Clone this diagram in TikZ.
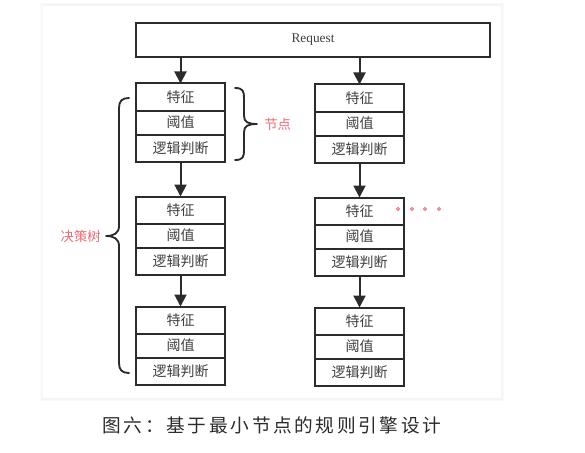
\documentclass[tikz,border=0pt]{standalone}
\usepackage{fontspec}
\setmainfont{Liberation Serif}
\newfontfamily\cjk{Noto Sans CJK SC}
\usetikzlibrary{arrows.meta}
\definecolor{ink}{HTML}{2B2B2B}
\definecolor{txt}{HTML}{404040}
\definecolor{redlab}{HTML}{F26B73}
\tikzset{
  cell/.style={draw=ink, line width=1.5pt, fill=white, minimum width=66.75pt, inner sep=0pt, outer sep=0pt, text=txt, font=\cjk\fontsize{10.5pt}{12pt}\selectfont},
  arr/.style={draw=ink, line width=1.5pt, -{Triangle[length=9pt,width=9pt]}},
  bracestyle/.style={draw=ink, line width=1.4pt, line cap=round, line join=round},
  redtext/.style={text=redlab, font=\cjk\fontsize{10pt}{12pt}\selectfont, inner sep=0pt},
}
\newcommand\mystack[3]{%
  \node[cell, minimum height=20.25pt, anchor=north] (#1a) at (#2,#3) {特征};
  \node[cell, minimum height=18pt, anchor=north] (#1b) at (#1a.south) {阈值};
  \node[cell, minimum height=20.25pt, anchor=north] (#1c) at (#1b.south) {逻辑判断};
}
\begin{document}
\begin{tikzpicture}[x=0.75pt, y=-0.75pt]
\useasboundingbox (0,0) rectangle (585,453);
\fill[white] (0,0) rectangle (585,453);
% panel with soft shadow
\fill[black!2] (40,3) rectangle (504,401);
\fill[black!4] (41.5,4.5) rectangle (502.5,399.5);
\fill[white] (43,6) rectangle (501,398);
% request
\node[cell, minimum width=265.5pt, minimum height=25.5pt, font=\fontsize{10pt}{12pt}\selectfont] (req) at (313,40) {Request};
% stacks
\mystack{L1}{180.5}{83.5}
\mystack{L2}{180.5}{196.5}
\mystack{L3}{180.5}{306.5}
\mystack{R1}{359.5}{84.5}
\mystack{R2}{359.5}{197.5}
\mystack{R3}{359.5}{307.5}
% arrows
\draw[arr] (req.south -| L1a.north) -- (L1a.north);
\draw[arr] (req.south -| R1a.north) -- (R1a.north);
\draw[arr] (L1c.south) -- (L2a.north);
\draw[arr] (L2c.south) -- (L3a.north);
\draw[arr] (R1c.south) -- (R2a.north);
\draw[arr] (R2c.south) -- (R3a.north);
% node brace
\draw[bracestyle] (235,88) .. controls (243,88) and (244,91) .. (244,98) -- (244,116)
  .. controls (244,122) and (248,124) .. (257,124)
  .. controls (248,124) and (244,126) .. (244,132) -- (244,150)
  .. controls (244,157) and (243,160) .. (235,160);
\node[redtext, anchor=west] (jd) at (264,124) {节点};
% tree brace
\draw[bracestyle] (129,98) .. controls (122,98) and (119,101) .. (119,108) -- (119,226)
  .. controls (119,233) and (114,236) .. (106,236)
  .. controls (114,236) and (119,239) .. (119,246) -- (119,363)
  .. controls (119,370) and (122,373) .. (129,373);
\node[redtext, anchor=east] (tree) at (101,236) {决策树};
% dots
\foreach \xx in {398,412,425,439} \draw[redlab, line width=0.6pt] (\xx,209) circle (1.5);
% caption
\node[text=ink, font=\cjk\fontsize{14pt}{16pt}\selectfont] (cap) at (272,425) {图\hspace{2pt}六\hspace{2pt}：\hspace{2pt}基\hspace{2pt}于\hspace{2pt}最\hspace{2pt}小\hspace{2pt}节\hspace{2pt}点\hspace{2pt}的\hspace{2pt}规\hspace{2pt}则\hspace{2pt}引\hspace{2pt}擎\hspace{2pt}设\hspace{2pt}计};
\end{tikzpicture}
\end{document}
